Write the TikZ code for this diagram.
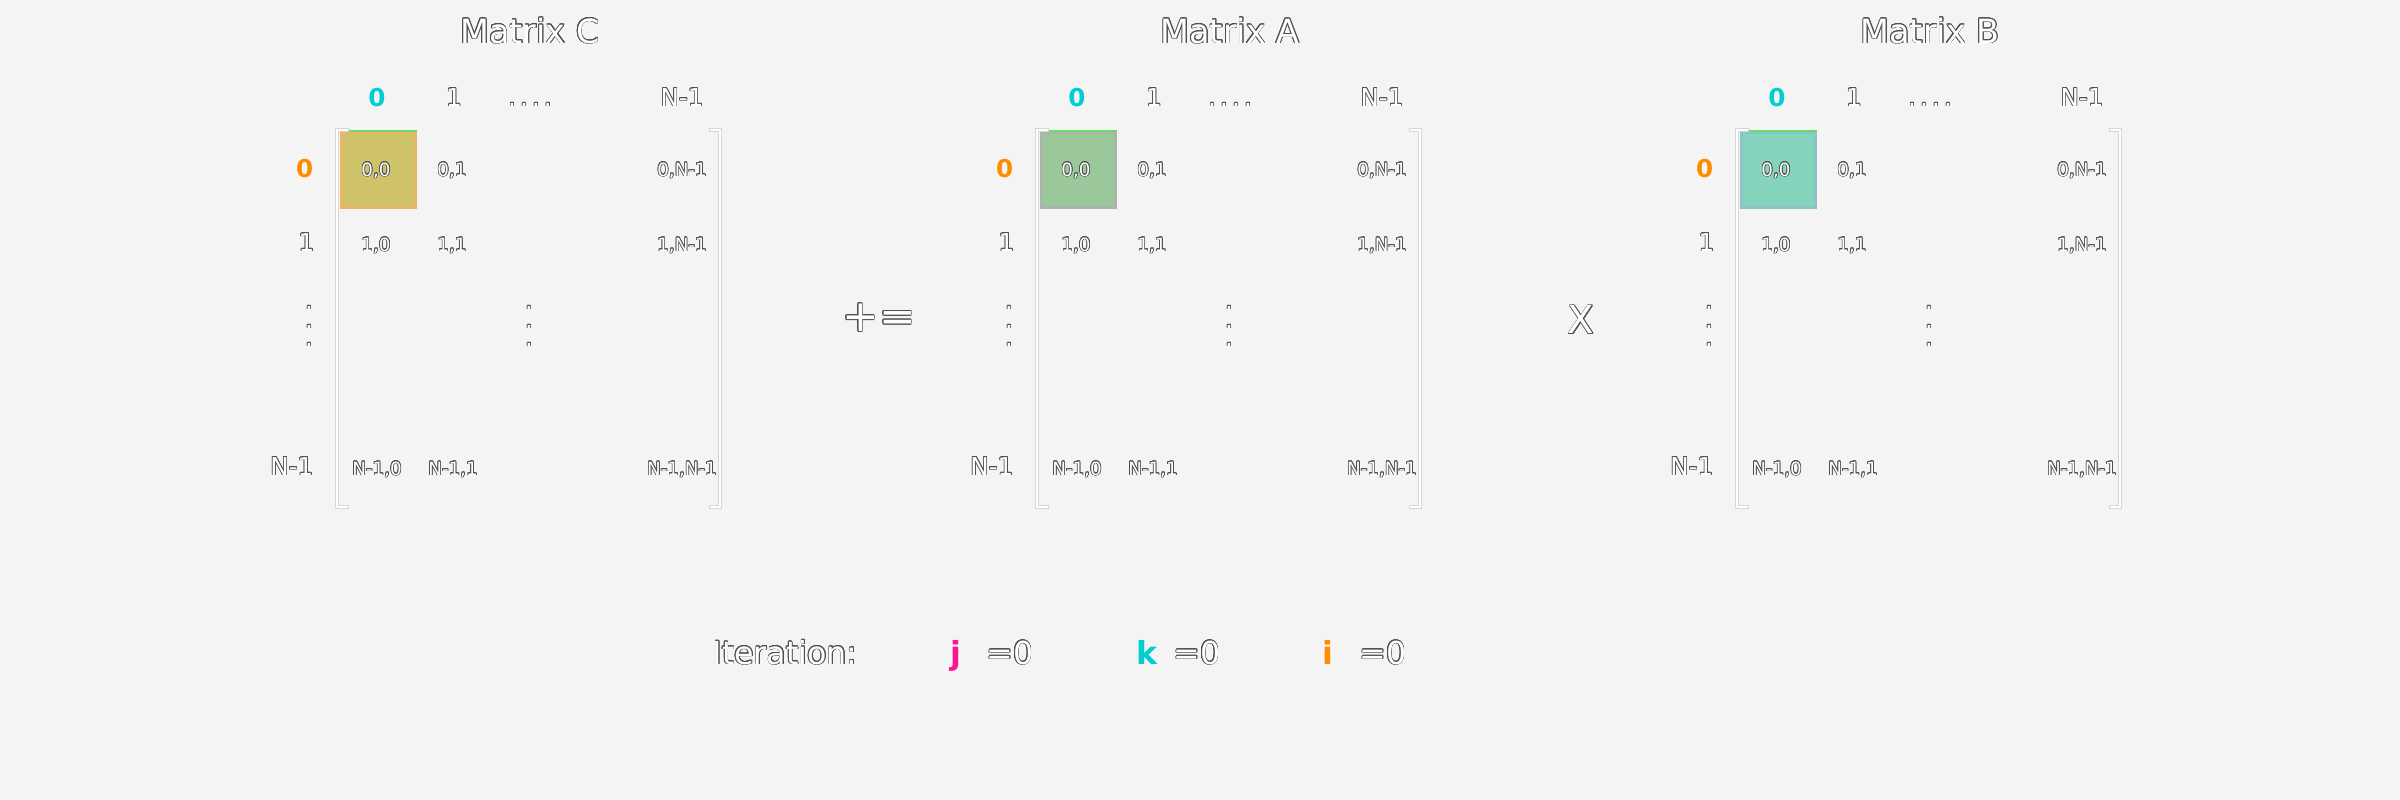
\documentclass[tikz,border=0pt]{standalone}
\usepackage{fontspec}
\setmainfont{DejaVu Sans}
\usepackage{contour}
\contourlength{0.2pt}
\contournumber{16}
\definecolor{bg}{HTML}{F4F4F4}
\definecolor{cyanc}{HTML}{00CED1}
\definecolor{orangec}{HTML}{FF8C00}
\definecolor{pinkc}{HTML}{FF1493}
\definecolor{cellC}{HTML}{CFC36A}
\definecolor{bordC}{HTML}{E9B466}
\definecolor{cellA}{HTML}{9BC89A}
\definecolor{bordA}{HTML}{AAB4AA}
\definecolor{cellB}{HTML}{85D4BE}
\definecolor{bordB}{HTML}{8CC4C4}
\definecolor{grn}{HTML}{66DD66}
\definecolor{brk}{HTML}{D6D6D6}
\definecolor{outl}{HTML}{505050}
\newcommand{\ot}[1]{\contour{outl}{#1}}
\tikzset{
  base/.style={inner sep=0pt, anchor=base, text=white},
  ttl/.style={base, font=\fontsize{9.5}{11}\selectfont},
  hdr/.style={base, font=\fontsize{7}{8}\selectfont},
  cel/.style={base, font=\fontsize{5.2}{6}\selectfont},
  colhdr/.style={base, font=\bfseries\fontsize{7}{8}\selectfont, text=cyanc},
  rowhdr/.style={base, font=\bfseries\fontsize{7}{8}\selectfont, text=orangec},
  vdot/.style={inner sep=0pt, anchor=center, text=white, font=\fontsize{7}{8}\selectfont},
  op/.style={inner sep=0pt, anchor=center, text=white},
  itv/.style={base, font=\bfseries\fontsize{9}{11}\selectfont},
  itx/.style={base, font=\fontsize{9}{11}\selectfont},
  brack/.style={line width=1.3pt, draw=brk},
  brackin/.style={line width=0.6pt, draw=white},
}
\begin{document}
\begin{tikzpicture}[x=0.01cm,y=-0.01cm]
\fill[bg] (0,0) rectangle (2400,800);
\useasboundingbox (0,0) rectangle (2400,800);
\foreach \dx/\nm/\cf/\cb in {0/C/cellC/bordC, 700/A/cellA/bordA, 1400/B/cellB/bordB}{
  \node[ttl] (title\nm) at (530+\dx,43) {\ot{Matrix \nm}};
  % column headers
  \node[colhdr] (cz\nm) at (377+\dx,106) {0};
  \node[hdr] (co\nm) at (454+\dx,106) {\ot{1}};
  \node[hdr] (cd\nm) at (530+\dx,106) {\ot{.\,.\,.\,.}};
  \node[hdr] (cn\nm) at (682+\dx,106) {\ot{N-1}};
  % row headers
  \node[rowhdr, anchor=base east] (rz\nm) at (314+\dx,177) {0};
  \node[hdr, anchor=base east] (ro\nm) at (315+\dx,251) {\ot{1}};
  \node[vdot] (rva\nm) at (309+\dx,308) {\ot{.}};
  \node[vdot] (rvb\nm) at (309+\dx,327) {\ot{.}};
  \node[vdot] (rvc\nm) at (309+\dx,345) {\ot{.}};
  \node[hdr, anchor=base east] (rn\nm) at (314+\dx,475) {\ot{N-1}};
  % highlighted cell
  \fill[\cf] (340+\dx,131) rectangle (417+\dx,209);
  \draw[\cb, line width=0.8pt] (341.5+\dx,132.5) rectangle (415.5+\dx,207.5);
  \draw[grn, line width=0.3pt] (340+\dx,131) -- (417+\dx,131);
  % brackets
  \draw[brack] (349+\dx,130) -- (337+\dx,130) -- (337+\dx,507) -- (349+\dx,507);
  \draw[brackin] (348+\dx,130) -- (337+\dx,130) -- (337+\dx,507) -- (348+\dx,507);
  \draw[brack] (709+\dx,130) -- (720+\dx,130) -- (720+\dx,507) -- (709+\dx,507);
  \draw[brackin] (710+\dx,130) -- (720+\dx,130) -- (720+\dx,507) -- (710+\dx,507);
  % cells
  \node[cel] (e00\nm) at (376+\dx,176) {\ot{0,0}};
  \node[cel] (e01\nm) at (452+\dx,176) {\ot{0,1}};
  \node[cel] (e0n\nm) at (682+\dx,176) {\ot{0,N-1}};
  \node[cel] (e10\nm) at (376+\dx,251) {\ot{1,0}};
  \node[cel] (e11\nm) at (452+\dx,251) {\ot{1,1}};
  \node[cel] (e1n\nm) at (682+\dx,251) {\ot{1,N-1}};
  \node[vdot] (mva\nm) at (529+\dx,308) {\ot{.}};
  \node[vdot] (mvb\nm) at (529+\dx,327) {\ot{.}};
  \node[vdot] (mvc\nm) at (529+\dx,345) {\ot{.}};
  \node[cel] (en0\nm) at (377+\dx,475) {\ot{N-1,0}};
  \node[cel] (en1\nm) at (453+\dx,475) {\ot{N-1,1}};
  \node[cel] (enn\nm) at (682+\dx,475) {\ot{N-1,N-1}};
}
\node[op, font=\fontsize{12.5}{14}\selectfont] (pluseq) at (879,318) {\ot{+=}};
\node[op, font=\fontsize{11}{13}\selectfont] (times) at (1581,320) {\ot{X}};
% iteration line
\node[itx, anchor=base west] (iter) at (712,664) {\ot{Iteration:}};
\node[itv, text=pinkc] (jv) at (956,664) {j};
\node[itx] (jeq) at (1010,664) {\ot{=0}};
\node[itv, text=cyanc] (kv) at (1147,664) {k};
\node[itx] (keq) at (1197,664) {\ot{=0}};
\node[itv, text=orangec] (iv) at (1328,664) {i};
\node[itx] (ieq) at (1383,664) {\ot{=0}};
\end{tikzpicture}
\end{document}
